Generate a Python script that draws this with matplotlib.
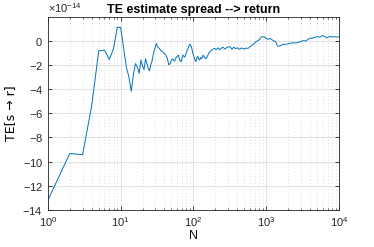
import numpy as np
import matplotlib.pyplot as plt
from matplotlib.ticker import ScalarFormatter, LogLocator, FixedLocator

plt.rcParams['font.family'] = ['Liberation Sans', 'DejaVu Sans']
plt.rcParams['axes.unicode_minus'] = False
plt.rcParams['mathtext.fontset'] = 'custom'
plt.rcParams['mathtext.rm'] = 'Liberation Sans'

# sample sizes N and the TE estimate (units of 1e-14)
n_vals = [1, 2, 3, 4, 5, 6, 7, 8, 9, 10, 11, 12, 13, 14, 15, 16, 17, 18, 19, 20,
          21, 22, 23, 24, 25, 26, 27, 28, 29, 30, 31, 32, 34, 36, 38, 40, 42, 44, 46, 48,
          50, 52, 55, 58, 62, 65, 68, 72, 76, 80, 85, 89, 94, 99, 104, 108, 112, 115, 118, 122,
          126, 130, 136, 142, 150, 156, 164, 170, 177, 186, 196, 206, 218, 230, 245, 257, 272, 290, 317, 340,
          360, 380, 405, 433, 460, 500, 530, 565, 600, 640, 670, 720, 770, 815, 870, 920, 960, 1010, 1070, 1140,
          1220, 1300, 1360, 1430, 1530, 1620, 1720, 1850, 2000, 2150, 2350, 2550, 2770, 3000, 3220, 3500, 3750, 3980, 4300, 4670,
          5200, 5500, 5860, 6300, 6820, 7500, 8100, 8860, 9400, 10000]
te_vals = [-13.2, -9.33, -9.43, -5.4, -0.84, -0.78, -1.56, -0.64, 1.1, 1.1, -0.6, -2.2, -3.0, -4.2, -2.8, -1.9, -2.2, -2.7, -1.6, -2.1,
           -2.4, -1.5, -1.9, -2.3, -2.5, -2.0, -1.7, -1.2, -0.8, -0.5, -0.23, -0.5, -0.64, -0.85, -0.9, -1.1, -1.2, -1.5, -2.0, -1.9,
           -1.6, -1.5, -1.7, -1.4, -1.2, -1.6, -1.75, -1.2, -1.36, -1.0, -0.6, -0.3, -0.5, -1.1, -1.5, -1.75, -1.4, -1.3, -1.5, -1.6,
           -1.4, -1.5, -1.2, -1.4, -1.5, -1.3, -1.0, -0.9, -0.78, -0.7, -0.64, -0.75, -0.6, -0.75, -0.6, -0.56, -0.7, -0.55, -0.5, -0.7,
           -0.55, -0.65, -0.6, -0.72, -0.6, -0.7, -0.62, -0.64, -0.5, -0.4, -0.28, -0.1, 0.0, 0.1, 0.33, 0.3, 0.28, 0.18, 0.1, 0.19,
           0.05, -0.05, -0.1, -0.45, -0.45, -0.38, -0.3, -0.3, -0.28, -0.22, -0.17, -0.2, -0.14, -0.08, 0.0, -0.03, 0.1, 0.19, 0.2, 0.28,
           0.33, 0.28, 0.42, 0.36, 0.22, 0.36, 0.3, 0.33, 0.28, 0.32]

te = np.array(te_vals) * 1e-14

fig = plt.figure(figsize=(3.74, 2.47), dpi=100)
ax = fig.add_axes([0.128, 0.150, 0.778, 0.781])
ax.semilogx(n_vals, te, color=(0, 0.447, 0.741), lw=0.7)

ax.set_xlim(1, 1e4)
ax.set_ylim(-14e-14, 1.95e-14)
ax.yaxis.set_major_locator(FixedLocator(np.arange(-14, 1, 2) * 1e-14))
fmt = ScalarFormatter(useMathText=True)
fmt.set_powerlimits((-14, -14))
ax.yaxis.set_major_formatter(fmt)
ax.xaxis.set_major_locator(LogLocator(base=10, numticks=10))

ax.grid(True, which='major', color='#e3e3e3', lw=0.8, ls='-')
ax.grid(True, which='minor', axis='x', color='#d0d0d0', lw=0.6, ls=(0, (1, 3)))
ax.set_axisbelow(True)
ax.tick_params(which='both', direction='in', top=True, right=True, labelsize=8, colors='#262626')
ax.tick_params(which='major', length=3, width=0.6)
ax.tick_params(which='minor', length=1.5, width=0.5)
for s in ax.spines.values():
    s.set_color('#262626')
    s.set_linewidth(0.6)

ax.set_title('TE estimate spread --> return', fontsize=9, fontweight='bold', pad=3)
ax.set_xlabel('N', fontsize=9, labelpad=1)
ax.set_ylabel('TE[s \u2192 r]', fontsize=9, labelpad=4, family=['DejaVu Sans'])
ax.yaxis.get_offset_text().set_fontsize(8)

fig.savefig('out.png', dpi=100)
